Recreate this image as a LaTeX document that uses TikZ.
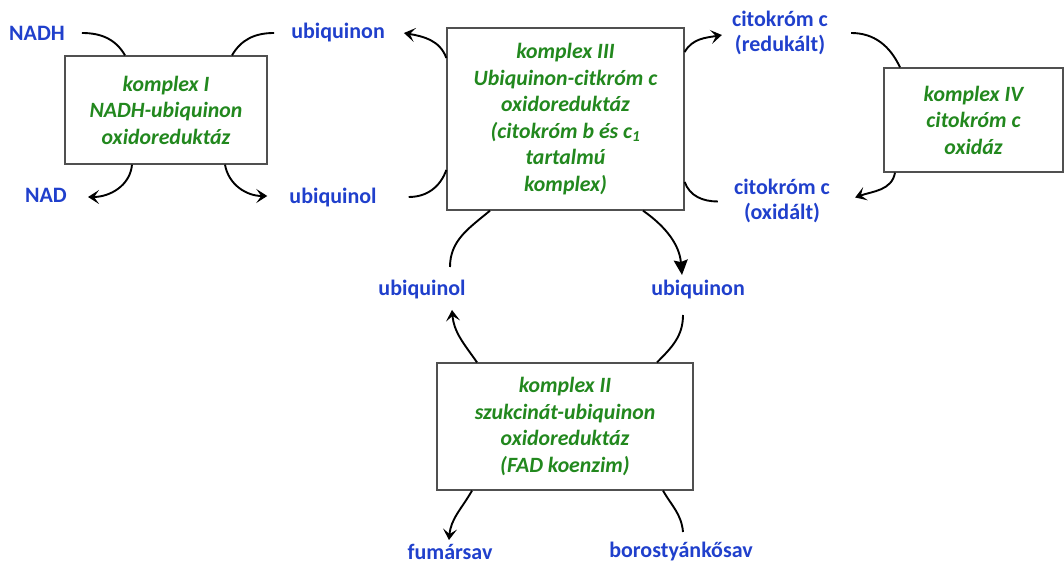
\documentclass[tikz,border=0pt]{standalone}
\usepackage{fontspec}
\setmainfont{Carlito}
\usetikzlibrary{arrows.meta}
\definecolor{lblue}{RGB}{32,64,204}
\definecolor{lgreen}{RGB}{34,136,30}
\definecolor{boxline}{RGB}{80,80,80}
\tikzset{
  cbox/.style={draw=boxline, line width=1.3pt, fill=white, inner sep=0pt, align=center,
    text=lgreen, font=\fontsize{21.8}{26.5}\selectfont\bfseries\itshape},
  lbl/.style={inner sep=0pt, align=center, text=lblue,
    font=\fontsize{22}{25}\selectfont\bfseries},
  conn/.style={line width=1.9pt, black},
  openarr/.style={conn, -{Stealth[length=11pt,width=14pt,inset=5pt]}},
  fillarr/.style={conn, -{Stealth[length=15pt,width=14pt,inset=2pt]}}
}
\begin{document}
\begin{tikzpicture}[x=1pt,y=1pt]
\useasboundingbox (0,0) rectangle (1064,564);
% boxes
\node[cbox, minimum width=202, minimum height=108] (k1) at (166,454)
  {komplex I\\NADH-ubiquinon\\oxidoreduktáz};
\node[cbox, minimum width=237, minimum height=182] (k3) at (565.5,445)
  {komplex III\\Ubiquinon-citkróm c\\oxidoreduktáz\\(citokróm b és c\textsubscript{1}\\tartalmú\\komplex)};
\node[cbox, minimum width=179, minimum height=104] (k4) at (973.5,444)
  {komplex IV\\citokróm c\\oxidáz};
\node[cbox, minimum width=256, minimum height=127] (k2) at (565,137.5)
  {komplex II\\szukcinát-ubiquinon\\oxidoreduktáz\\(FAD koenzim)};
% labels
\node[lbl] (nadh) at (37,531) {NADH};
\node[lbl] (ubT) at (338,531) {ubiquinon};
\node[lbl] (nad) at (46,369) {NAD};
\node[lbl] (ubL) at (333,366) {ubiquinol};
\node[lbl] (red) at (780,531) {citokróm c\\(redukált)};
\node[lbl] (ox) at (782,363.5) {citokróm c\\(oxidált)};
\node[lbl] (ubqlM) at (422,274) {ubiquinol};
\node[lbl] (ubnM) at (698,274) {ubiquinon};
\node[lbl] (fum) at (450,12) {fumársav};
\node[lbl] (bor) at (681,12) {borostyánkősav};
% komplex I
\draw[conn] ([xshift=17]nadh.east) to[out=0,in=120] ([xshift=-41]k1.north);
\draw[conn] ([xshift=-17]ubT.west) to[out=180,in=60] ([xshift=66]k1.north);
\draw[openarr] ([xshift=-34]k1.south) to[out=-95,in=0] ([xshift=21,yshift=-2]nad.east);
\draw[openarr] ([xshift=59]k1.south) to[out=-80,in=180] ([xshift=-22,yshift=2]ubL.west);
% komplex III
\draw[openarr] ([yshift=61]k3.west) to[out=110,in=-10] ([xshift=19]ubT.east);
\draw[conn] ([xshift=32,yshift=1]ubL.east) to[out=0,in=-110] ([yshift=-51]k3.west);
\draw[openarr] ([yshift=67]k3.east) to[out=60,in=190] ([xshift=-10,yshift=-2]red.west);
\draw[conn] ([xshift=-16,yshift=-1]ox.west) to[out=180,in=-70] ([yshift=-63]k3.east);
% komplex IV
\draw[conn] ([xshift=23]red.east) to[out=0,in=115] ([xshift=-73.5]k4.north);
\draw[openarr] ([xshift=-78.5]k4.south) to[out=-100,in=20] ([xshift=25,yshift=3]ox.east);
% komplex III bottom
\draw[conn] ([xshift=28,yshift=23]ubqlM.center) to[out=90,in=-140] ([xshift=-75.5]k3.south);
\draw[fillarr] ([xshift=77.5]k3.south) to[out=-35,in=95] ([xshift=-16,yshift=15]ubnM.center);
% komplex II
\draw[openarr] ([xshift=-88]k2.north) to[out=125,in=-85] ([xshift=30,yshift=-20]ubqlM.center);
\draw[conn] ([xshift=-15,yshift=-25]ubnM.center) to[out=-90,in=45] ([xshift=92]k2.north);
\draw[openarr] ([xshift=-93]k2.south) to[out=-120,in=85] ([xshift=-1,yshift=12]fum.center);
\draw[conn] ([xshift=2,yshift=20]bor.center) to[out=95,in=-60] ([xshift=98]k2.south);
\end{tikzpicture}
\end{document}
